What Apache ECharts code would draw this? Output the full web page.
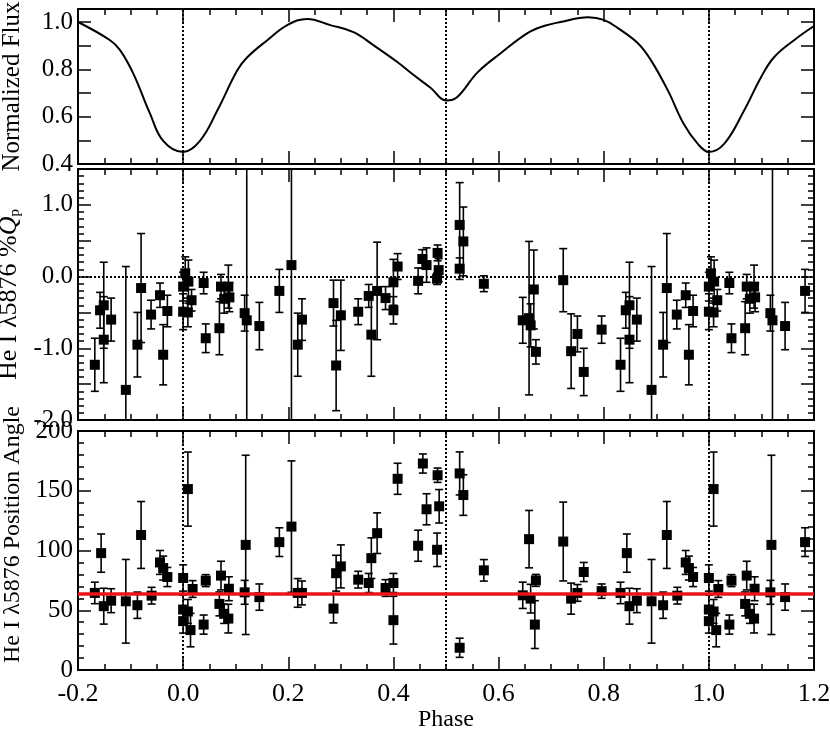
<!DOCTYPE html>
<html>
<head>
<meta charset="utf-8">
<script src="https://cdn.jsdelivr.net/npm/echarts@6/dist/echarts.min.js"></script>
<style>
html, body { margin: 0; padding: 0; background: #fff; }
#main { width: 830px; height: 733px; }
</style>
</head>
<body>
<div id="main"></div>
<script>
// light curve (top panel)
var fluxPhase = [-0.2, -0.139, -0.12, -0.095, -0.063, -0.038, 0.0, 0.032, 0.065, 0.103, 0.122, 0.16, 0.198, 0.236, 0.28, 0.324, 0.362, 0.408, 0.436, 0.47, 0.501, 0.521, 0.56, 0.604, 0.655, 0.686, 0.718, 0.77, 0.8, 0.827, 0.865, 0.89, 0.922, 0.952, 0.979, 1.0, 1.029, 1.067, 1.099, 1.124, 1.162, 1.2];
var fluxVal = [1.0, 0.923, 0.881, 0.783, 0.613, 0.498, 0.451, 0.498, 0.626, 0.796, 0.851, 0.923, 0.987, 1.013, 0.987, 0.957, 0.902, 0.83, 0.78, 0.723, 0.668, 0.682, 0.787, 0.868, 0.953, 0.983, 1.0, 1.02, 1.009, 0.974, 0.91, 0.838, 0.711, 0.57, 0.485, 0.451, 0.485, 0.626, 0.766, 0.851, 0.923, 0.983];

// He I 5876 %Q_p (middle panel), phases 0..1
var qPhase = [0.000, 0.000, 0.004, 0.010, 0.009, 0.016, 0.039, 0.043, 0.069, 0.072, 0.078, 0.086, 0.088, 0.117, 0.121, 0.145, 0.183, 0.206, 0.218, 0.226, 0.286, 0.291, 0.300, 0.333, 0.353, 0.358, 0.369, 0.385, 0.400, 0.400, 0.408, 0.447, 0.455, 0.463, 0.484, 0.486, 0.483, 0.526, 0.533, 0.526, 0.572, 0.646, 0.658, 0.661, 0.667, 0.671, 0.723, 0.738, 0.750, 0.762, 0.796, 0.832, 0.842, 0.849, 0.849, 0.863, 0.891, 0.913, 0.920, 0.939, 0.956, 0.962, 0.970];
var qVal = [-0.14, -0.49, 0.045, -0.07, -0.50, -0.33, -0.09, -0.86, -0.72, -0.14, -0.31, -0.14, -0.29, -0.51, -0.61, -0.69, -0.20, 0.16, -0.95, -0.60, -0.37, -1.24, -0.54, -0.49, -0.27, -0.81, -0.20, -0.30, -0.47, -0.08, 0.14, -0.06, 0.245, 0.16, 0.33, 0.09, -0.03, 0.72, 0.49, 0.11, -0.10, -0.61, -0.58, -0.68, -0.18, -1.05, -0.05, -1.04, -0.80, -1.33, -0.74, -1.23, -0.47, -0.40, -0.88, -0.60, -1.58, -0.95, -0.16, -0.53, -0.26, -1.09, -0.48];
var qErr = [0.20, 0.25, 0.23, 0.30, 0.20, 0.15, 0.15, 0.20, 0.37, 0.17, 0.20, 0.30, 0.20, 0.25, 4.0, 0.33, 0.30, 4.0, 0.44, 0.29, 0.32, 0.63, 0.49, 0.18, 0.16, 0.58, 0.68, 0.16, 0.19, 0.32, 0.18, 0.18, 0.13, 0.24, 0.11, 0.16, 0.08, 0.59, 0.48, 0.15, 0.11, 0.32, 1.07, 0.30, 0.55, 0.17, 0.44, 0.52, 0.25, 0.33, 0.19, 0.37, 0.25, 0.60, 0.60, 0.30, 1.72, 0.45, 0.76, 0.20, 0.17, 0.42, 0.22];

// He I 5876 position angle (bottom panel), phases 0..1
var paPhase = [0.000, 0.000, 0.000, 0.009, 0.009, 0.018, 0.014, 0.039, 0.043, 0.069, 0.072, 0.078, 0.086, 0.087, 0.117, 0.119, 0.145, 0.183, 0.206, 0.218, 0.226, 0.286, 0.291, 0.300, 0.333, 0.353, 0.358, 0.369, 0.385, 0.400, 0.400, 0.408, 0.447, 0.456, 0.463, 0.484, 0.487, 0.483, 0.526, 0.533, 0.526, 0.572, 0.646, 0.658, 0.661, 0.671, 0.669, 0.723, 0.738, 0.750, 0.762, 0.796, 0.832, 0.844, 0.849, 0.863, 0.891, 0.913, 0.920, 0.940, 0.956, 0.962, 0.970];
var paVal = [77, 50.6, 40.9, 151.4, 49, 67.8, 33.4, 38, 74.8, 55.3, 79, 47, 43, 68, 65, 104.7, 61, 107, 120, 64.5, 64.5, 51.4, 81, 86.7, 75.6, 72.8, 93.6, 114.5, 68.6, 72.8, 41.7, 160, 104, 172.8, 134.5, 163, 137, 100.6, 164.5, 146.4, 18.6, 83.4, 62.5, 109.5, 59.7, 75, 38, 107.5, 59.7, 64.5, 82, 66, 64.5, 97.8, 53.4, 58, 57.5, 54.2, 113, 62.2, 90, 85.3, 77.8];
var paErr = [11, 12, 10, 31, 10, 7, 14, 8, 5, 10, 12, 8, 12, 10, 10, 75, 11, 12, 55, 12, 10, 12, 15, 18, 7, 8, 17, 17, 7, 8, 20, 13, 13, 8, 13, 6, 14, 14, 18, 17, 8, 9, 11, 24, 12, 5, 20, 33, 13, 7, 8, 6, 9, 16, 15, 10, 35, 11, 28, 7, 10, 10, 8];
var paMean = 64;

var FONT = 'Liberation Serif';

// fold phases 0..1 onto the plotted range -0.2..1.2
function wrapPts(ph, val, err) {
    var out = [];
    for (var i = 0; i < ph.length; i++) {
        [-1, 0, 1].forEach(function (s) {
            var p = ph[i] + s;
            if (p >= -0.2 && p <= 1.2) out.push([p, val[i], val[i] - err[i], val[i] + err[i]]);
        });
    }
    return out;
}

var qPts = wrapPts(qPhase, qVal, qErr);
var paPts = wrapPts(paPhase, paVal, paErr);
var fluxPts = fluxPhase.map(function (p, i) { return [p, fluxVal[i]]; });

function errRender(params, api) {
    var x = api.value(0), lo = api.value(2), hi = api.value(3);
    var pHi = api.coord([x, hi]), pLo = api.coord([x, lo]);
    var cs = params.coordSys;
    var top = Math.max(pHi[1], cs.y), bot = Math.min(pLo[1], cs.y + cs.height);
    var st = { stroke: '#000', lineWidth: 1.6 };
    var kids = [{ type: 'line', shape: { x1: pHi[0], y1: top, x2: pHi[0], y2: bot }, style: st }];
    if (pHi[1] >= cs.y) kids.push({ type: 'line', shape: { x1: pHi[0] - 4, y1: pHi[1], x2: pHi[0] + 4, y2: pHi[1] }, style: st });
    if (pLo[1] <= cs.y + cs.height) kids.push({ type: 'line', shape: { x1: pLo[0] - 4, y1: pLo[1], x2: pLo[0] + 4, y2: pLo[1] }, style: st });
    return { type: 'group', children: kids };
}

function xAx(g, pos, showLabel) {
    return {
        type: 'value', gridIndex: g, position: pos, min: -0.2, max: 1.2, interval: 0.2,
        axisLine: { show: true, onZero: false, lineStyle: { color: '#000', width: 2 } },
        axisTick: { show: true, inside: true, length: 13, lineStyle: { color: '#000', width: 1.5 } },
        minorTick: { show: true, splitNumber: 4, length: 6, lineStyle: { color: '#000', width: 1.5 } },
        splitLine: { show: false },
        axisLabel: { show: showLabel, color: '#000', fontFamily: FONT, fontSize: 26, margin: 11,
            formatter: function (v) { return v.toFixed(1); } },
        name: showLabel ? 'Phase' : '', nameLocation: 'middle', nameGap: 36,
        nameTextStyle: { color: '#000', fontFamily: FONT, fontSize: 24 }
    };
}

function yAx(g, pos, o) {
    return {
        type: 'value', gridIndex: g, position: pos, min: o.min, max: o.max, interval: o.interval,
        axisLine: { show: true, onZero: false, lineStyle: { color: '#000', width: 2 } },
        axisTick: { show: true, inside: true, length: 13, lineStyle: { color: '#000', width: 1.5 } },
        minorTick: { show: !!o.minor, splitNumber: o.minor || 5, length: 6, lineStyle: { color: '#000', width: 1.5 } },
        splitLine: { show: false },
        axisLabel: { show: pos === 'left', color: '#000', fontFamily: FONT, fontSize: 25, margin: 5,
            showMaxLabel: o.showMax !== false, formatter: o.fmt },
        name: pos === 'left' ? o.name : '', nameLocation: 'middle', nameGap: o.gap || 52,
        nameTextStyle: { color: '#000', fontFamily: FONT, fontSize: o.nameSize || 24, rich: o.rich, padding: o.pad || 0 }
    };
}

function every(step, digits) {
    return function (v) {
        var k = v / step;
        return Math.abs(k - Math.round(k)) < 1e-6 ? v.toFixed(digits) : '';
    };
}

var topY = { min: 0.4, max: 1.055, interval: 0.1, fmt: every(0.2, 1), showMax: false, name: 'Normalized Flux', gap: 53, nameSize: 25 };
var midY = { min: -2, max: 1.5, interval: 0.5, minor: 5, fmt: every(1, 1),
    name: '{n|He I λ5876 %}{q|Q}{s|p}', gap: 50,
    rich: {
        n: { fontFamily: FONT, fontSize: 26, color: '#000' },
        q: { fontFamily: FONT, fontSize: 26, fontStyle: 'italic', color: '#000' },
        s: { fontFamily: FONT, fontSize: 15, color: '#000', verticalAlign: 'bottom', padding: [11, 0, 0, 0] }
    } };
var botY = { min: 0, max: 200, interval: 50, minor: 5, fmt: function (v) { return String(v); },
    name: 'He I λ5876 Position Angle', gap: 53, pad: [0, 0, 0, 32] };

var dotted = { type: 'dotted', color: '#000', width: 2 };

var option = {
    animation: false,
    backgroundColor: '#fff',
    grid: [
        { left: 78, right: 16, top: 9, height: 155, outerBoundsMode: 'none', containLabel: false },
        { left: 78, right: 16, top: 169, height: 251, outerBoundsMode: 'none', containLabel: false },
        { left: 78, right: 16, top: 431, height: 239, outerBoundsMode: 'none', containLabel: false }
    ],
    xAxis: [xAx(0, 'bottom', false), xAx(1, 'bottom', false), xAx(2, 'bottom', true),
        xAx(0, 'top', false), xAx(1, 'top', false), xAx(2, 'top', false)],
    yAxis: [yAx(0, 'left', topY), yAx(1, 'left', midY), yAx(2, 'left', botY),
        yAx(0, 'right', topY), yAx(1, 'right', midY), yAx(2, 'right', botY)],
    series: [
        {
            type: 'line', xAxisIndex: 0, yAxisIndex: 0, data: fluxPts, smooth: 0.4,
            showSymbol: false, lineStyle: { color: '#000', width: 2 },
            markLine: { silent: true, symbol: 'none', label: { show: false }, lineStyle: dotted,
                data: [{ xAxis: 0 }, { xAxis: 0.5 }, { xAxis: 1 }] }
        },
        {
            type: 'custom', xAxisIndex: 1, yAxisIndex: 1, data: qPts, renderItem: errRender,
            encode: { x: 0, y: [2, 3] },
            markLine: { silent: true, symbol: 'none', label: { show: false }, lineStyle: dotted,
                data: [{ xAxis: 0 }, { xAxis: 0.5 }, { xAxis: 1 }, { yAxis: 0 }] }
        },
        {
            type: 'scatter', xAxisIndex: 1, yAxisIndex: 1, data: qPts, symbol: 'rect', symbolSize: 10,
            itemStyle: { color: '#000', opacity: 1 }
        },
        {
            type: 'custom', xAxisIndex: 2, yAxisIndex: 2, data: paPts, renderItem: errRender,
            encode: { x: 0, y: [2, 3] },
            markLine: { silent: true, symbol: 'none', label: { show: false }, lineStyle: dotted,
                data: [{ xAxis: 0 }, { xAxis: 0.5 }, { xAxis: 1 }] }
        },
        {
            type: 'scatter', xAxisIndex: 2, yAxisIndex: 2, data: paPts, symbol: 'rect', symbolSize: 10,
            itemStyle: { color: '#000', opacity: 1 },
            markLine: { silent: true, symbol: 'none', label: { show: false },
                lineStyle: { type: 'solid', color: '#e8141a', width: 3.5, opacity: 1 },
                data: [{ yAxis: paMean }] }
        }
    ]
};

var chart = echarts.init(document.getElementById('main'));
chart.setOption(option);
</script>
</body>
</html>
